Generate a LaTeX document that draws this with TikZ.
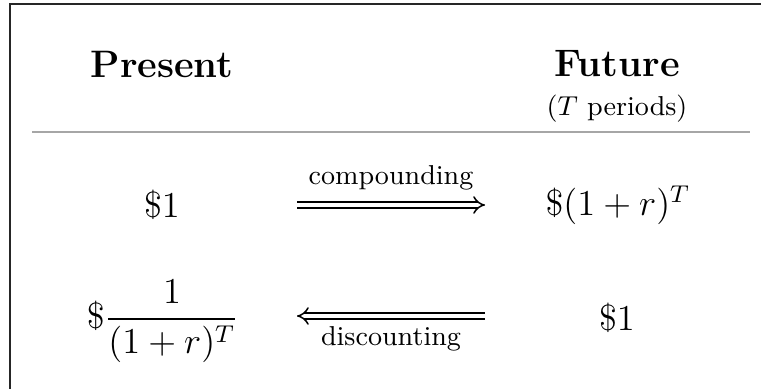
\documentclass[tikz,border=0pt]{standalone}
\usepackage{amsmath}
\usetikzlibrary{arrows.meta}
\begin{document}
\begin{tikzpicture}[x=0.329pt,y=-0.329pt,
  head/.style={font=\fontsize{12.6}{15}\selectfont\bfseries, anchor=base, inner sep=0pt},
  val/.style={font=\large, inner sep=0pt},
  lbl/.style={font=\small, inner sep=0pt},
  dbl/.style={double, double distance=1.5pt, line width=0.5pt}]
\useasboundingbox (0,0) rectangle (761,389);
\draw[line width=0.6pt, black!85] (10,420) -- (10,4.3) -- (800,4.3);
\node[head] (present) at (162,78) {Present};
\node[head] (future) at (617,77) {Future};
\node[lbl, anchor=base] (periods) at (617,116) {($T$ periods)};
\coordinate (rl) at (32,132);
\coordinate (rr) at (750,132);
\draw[gray!70, line width=0.4pt] (rl) -- (rr);
\node[val] (l1) at (162,205) {$\$1$};
\node[val] (r1) at (618,205) {$\$(1+r)^T$};
\node[val] (l2) at (163,321) {$\$\dfrac{1}{(1+r)^T}$};
\node[val] (r2) at (617,318) {$\$1$};
\coordinate (a1s) at (297,205);
\coordinate (a1e) at (485,205);
\coordinate (a2s) at (485,316);
\coordinate (a2e) at (297,316);
\draw[dbl, -{Implies[scale=1.3]}] (a1s) -- (a1e) node[lbl, midway, anchor=base, yshift=20*0.329pt] (comp) {compounding};
\draw[dbl, -{Implies[scale=1.3]}] (a2s) -- (a2e) node[lbl, midway, anchor=base, yshift=-29*0.329pt] (disc) {discounting};
\end{tikzpicture}
\end{document}
